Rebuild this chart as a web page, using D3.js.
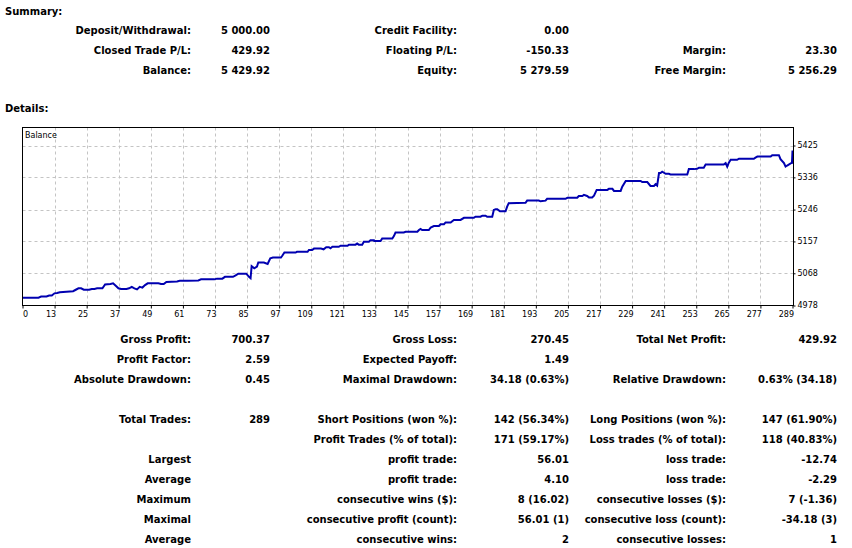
<!DOCTYPE html>
<html>
<head>
<meta charset="utf-8">
<script src="https://cdn.jsdelivr.net/npm/d3@7"></script>
<style>
  body { margin: 0; background: #fff; }
  svg { display: block; }
  .lbl { font: bold 10px "DejaVu Sans", sans-serif; fill: #000; }
  .tick-lbl { font: 8px "DejaVu Sans", sans-serif; fill: #000; }
</style>
</head>
<body>
<svg id="report"></svg>
<script>
// balance curve: trade number and balance
const tradeNo = [0, 6, 7, 9, 10, 11, 12, 13, 14, 19, 20, 21, 22, 23, 25, 26, 27, 28, 30, 31,
  33, 34, 35, 36, 37, 39, 40, 41, 42, 43, 44, 45, 46, 47, 51, 52, 53, 54, 58, 59,
  62, 66, 67, 72, 73, 75, 76, 79, 80, 81, 84, 85, 85.6, 86, 87, 88, 88.5, 90.6, 92, 93,
  94, 97, 97.5, 98.3, 102.5, 103, 107, 107.5, 108.7, 109.4, 112, 113, 114, 115, 115.6, 116.3, 118.7, 119.4, 122, 122.5,
  125, 125.6, 126.2, 127.5, 128.1, 130, 130.6, 131.9, 132, 134.4, 135, 138.8, 139.4, 140, 143.1, 143.8, 148.2, 148.8, 149.4, 150,
  152.5, 153.2, 154.4, 156.3, 156.9, 158.2, 158.8, 160.7, 161.9, 164.4, 165.7, 169.4, 170, 171.9, 172.6, 173.8, 174.4, 176.3, 176.9, 177.6,
  178.2, 179.2, 181.3, 181.9, 182.5, 188.8, 189.4, 193.8, 194.4, 196.3, 196.9, 203.8, 204.5, 208.2, 208.8, 210.1, 210.7, 211.9, 212.6, 213.8,
  214.5, 215.5, 219.5, 220.1, 221.4, 222, 224.5, 225.1, 226.4, 232, 232.6, 234.5, 235.7, 237, 237.6, 238.2, 238.9, 239.5, 240.1, 241.4,
  242.6, 243.2, 249.5, 250.1, 252, 253.2, 253.9, 255.7, 256.4, 263.2, 263.9, 264.5, 265.1, 265.8, 268.2, 268.9, 274.5, 275.1, 275.8, 280.8,
  281.4, 283.9, 284.5, 285.8, 286.4, 287, 288.3, 288.8, 289];
const balance = [5000, 5000, 5003, 5003, 5006, 5006, 5012, 5013, 5015, 5018, 5022, 5026, 5026, 5022, 5022, 5024, 5024, 5026, 5026, 5037,
  5038, 5040, 5033, 5026, 5024, 5024, 5026, 5030, 5026, 5023, 5030, 5028, 5035, 5040, 5040, 5038, 5038, 5044, 5045, 5047,
  5047, 5048, 5051, 5051, 5053, 5053, 5058, 5058, 5062, 5067, 5067, 5058, 5054, 5088, 5082, 5087, 5098, 5098, 5094, 5110,
  5112, 5112, 5117, 5126, 5126, 5128, 5128, 5133, 5133, 5137, 5137, 5135, 5141, 5141, 5138, 5142, 5142, 5145, 5145, 5148,
  5148, 5151, 5148, 5148, 5156, 5156, 5160, 5160, 5158, 5158, 5165, 5165, 5172, 5182, 5182, 5184, 5184, 5189, 5192, 5189,
  5189, 5196, 5200, 5200, 5205, 5205, 5210, 5210, 5217, 5217, 5223, 5223, 5226, 5226, 5229, 5229, 5226, 5226, 5245, 5247,
  5247, 5241, 5241, 5254, 5264, 5265, 5271, 5271, 5269, 5271, 5276, 5276, 5279, 5279, 5284, 5284, 5287, 5284, 5280, 5280,
  5285, 5301, 5301, 5304, 5304, 5298, 5298, 5310, 5326, 5326, 5323, 5323, 5312, 5312, 5317, 5313, 5348, 5348, 5352, 5346,
  5346, 5344, 5344, 5359, 5359, 5360, 5363, 5363, 5372, 5372, 5376, 5366, 5377, 5385, 5385, 5388, 5388, 5391, 5394, 5394,
  5398, 5398, 5387, 5376, 5366, 5369, 5375, 5376, 5411];

const xTickLabels = ["0", "13", "25", "37", "49", "61", "73", "85", "97", "109", "121", "133", "145",
  "157", "169", "181", "193", "205", "217", "229", "241", "253", "265", "277", "289"];
const yTickLabels = [4978, 5068, 5157, 5246, 5336, 5425];
const totalTrades = 289;

const summaryRows = [
  ["Deposit/Withdrawal:", "5 000.00", "Credit Facility:", "0.00", "", ""],
  ["Closed Trade P/L:", "429.92", "Floating P/L:", "-150.33", "Margin:", "23.30"],
  ["Balance:", "5 429.92", "Equity:", "5 279.59", "Free Margin:", "5 256.29"]
];
const detailRows = [
  ["Gross Profit:", "700.37", "Gross Loss:", "270.45", "Total Net Profit:", "429.92"],
  ["Profit Factor:", "2.59", "Expected Payoff:", "1.49", "", ""],
  ["Absolute Drawdown:", "0.45", "Maximal Drawdown:", "34.18 (0.63%)", "Relative Drawdown:", "0.63% (34.18)"],
  null,
  ["Total Trades:", "289", "Short Positions (won %):", "142 (56.34%)", "Long Positions (won %):", "147 (61.90%)"],
  ["", "", "Profit Trades (% of total):", "171 (59.17%)", "Loss trades (% of total):", "118 (40.83%)"],
  ["Largest", "", "profit trade:", "56.01", "loss trade:", "-12.74"],
  ["Average", "", "profit trade:", "4.10", "loss trade:", "-2.29"],
  ["Maximum", "", "consecutive wins ($):", "8 (16.02)", "consecutive losses ($):", "7 (-1.36)"],
  ["Maximal", "", "consecutive profit (count):", "56.01 (1)", "consecutive loss (count):", "-34.18 (3)"],
  ["Average", "", "consecutive wins:", "2", "consecutive losses:", "1"]
];

var width = 852, height = 548;
var svg = d3.select("#report").attr("width", width).attr("height", height);

// right edges of the six text columns
var colX = [191, 270, 457, 569, 726, 837];

function drawRows(rows, top) {
  rows.forEach(function(row, r) {
    if (!row) return;
    row.forEach(function(t, c) {
      if (!t) return;
      svg.append("text")
        .attr("class", "lbl")
        .attr("x", colX[c])
        .attr("y", top + r * 20 + 3.6)
        .attr("text-anchor", "end")
        .text(t);
    });
  });
}

svg.append("text").attr("class", "lbl").attr("x", 5).attr("y", 14.6).text("Summary:");
drawRows(summaryRows, 30);
svg.append("text").attr("class", "lbl").attr("x", 5).attr("y", 111.6).text("Details:");
drawRows(detailRows, 339);

// balance graph
var box = {left: 22.5, top: 127.5, right: 793.5, bottom: 305.5};

var xScale = d3.scaleLinear()
    .domain([0, totalTrades])
    .range([box.left, box.right - 1]);
var yScale = d3.scaleLinear()
    .domain([yTickLabels[0], yTickLabels[yTickLabels.length - 1]])
    .range([box.bottom, 145.5]);

// grid lines sit on evenly spaced trade positions
var xGrid = xTickLabels.map(function(d, i) { return i * totalTrades / (xTickLabels.length - 1); });

var g = svg.append("g");

g.selectAll(".vgrid")
    .data(xGrid.slice(1, -1))
  .enter().append("line")
    .attr("x1", function(d) { return Math.round(xScale(d)) + 0.5; })
    .attr("x2", function(d) { return Math.round(xScale(d)) + 0.5; })
    .attr("y1", box.top)
    .attr("y2", box.bottom)
    .attr("stroke", "#c4c4c4")
    .attr("stroke-dasharray", "3,3");

g.selectAll(".hgrid")
    .data(yTickLabels.slice(1))
  .enter().append("line")
    .attr("x1", box.left)
    .attr("x2", box.right)
    .attr("y1", function(d) { return Math.round(yScale(d)) + 0.5; })
    .attr("y2", function(d) { return Math.round(yScale(d)) + 0.5; })
    .attr("stroke", "#c4c4c4")
    .attr("stroke-dasharray", "3,3");

var line = d3.line()
    .x(function(d, i) { return xScale(tradeNo[i]); })
    .y(function(d) { return yScale(d); });

g.append("path")
    .datum(balance)
    .attr("fill", "none")
    .attr("stroke", "#0000b0")
    .attr("stroke-width", 2)
    .attr("stroke-linejoin", "miter")
    .attr("d", line);

g.append("rect")
    .attr("x", box.left)
    .attr("y", box.top)
    .attr("width", box.right - box.left)
    .attr("height", box.bottom - box.top)
    .attr("fill", "none")
    .attr("stroke", "#000");

g.append("text")
    .attr("class", "tick-lbl")
    .attr("x", 25)
    .attr("y", 138)
    .text("Balance");

// bottom axis
var xAxis = d3.axisBottom(xScale)
    .tickValues(xGrid)
    .tickSize(3)
    .tickFormat(function(d, i) { return xTickLabels[i]; });

var xa = g.append("g")
    .attr("transform", "translate(0," + box.bottom + ")")
    .call(xAxis);
xa.select(".domain").remove();
xa.selectAll("text")
    .attr("class", "tick-lbl")
    .attr("y", 11)
    .attr("dy", 0)
    .attr("text-anchor", function(d, i) { return i === 0 ? "start" : "end"; })
    .attr("x", function(d, i) { return i === 0 ? 0 : 1; });

// right axis
var yAxis = d3.axisRight(yScale)
    .tickValues(yTickLabels)
    .tickSize(2)
    .tickFormat(d3.format("d"));

var ya = g.append("g")
    .attr("transform", "translate(" + box.right + ",0)")
    .call(yAxis);
ya.select(".domain").remove();
ya.selectAll("text")
    .attr("class", "tick-lbl")
    .attr("x", 4)
    .attr("dy", "0.25em");
</script>
</body>
</html>
